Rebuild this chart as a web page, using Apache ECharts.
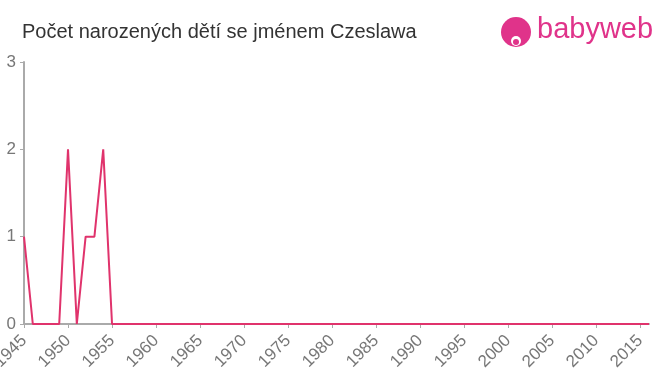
<!DOCTYPE html>
<html><head><meta charset="utf-8">
<script src="https://cdn.jsdelivr.net/npm/echarts@6/dist/echarts.min.js"></script>
<style>html,body{margin:0;padding:0;background:#fff}#c{width:660px;height:375px}</style>
</head><body><div id="c"></div>
<script>
const years = [];
for (let y = 1945; y <= 2016; y++) years.push(y);
const counts = [1,0,0,0,0,2,0,1,1,2,0,0,0,0,0,0,0,0,0,0,
  0,0,0,0,0,0,0,0,0,0,0,0,0,0,0,0,0,0,0,0,
  0,0,0,0,0,0,0,0,0,0,0,0,0,0,0,0,0,0,0,0,
  0,0,0,0,0,0,0,0,0,0,0,0];
const yTicks = [0,1,2,3];
const titleText = 'Počet narozených dětí se jménem Czeslawa';

const chart = echarts.init(document.getElementById('c'));
chart.setOption({
  animation: false,
  title: {text: titleText, left: 17, top: 17, textStyle: {fontFamily: 'Liberation Sans, Arial, sans-serif', fontSize: 20, fontWeight: 'normal', color: '#333'}},
  grid: {left: 24, right: 11, top: 62, bottom: 51, containLabel: false, outerBoundsMode: 'none'},
  xAxis: {type: 'value', min: 1945, max: 2016, interval: 5,
    axisLine: {lineStyle: {color: '#aaa', width: 2}},
    axisTick: {show: true, length: 4, lineStyle: {color: '#aaa'}},
    splitLine: {show: false},
    axisLabel: {rotate: 45, color: '#777', fontSize: 17, fontFamily: 'Liberation Sans, Arial, sans-serif', margin: 14,
      showMaxLabel: false, formatter: v => String(v)}},
  yAxis: {type: 'value', min: 0, max: 3, interval: 1,
    axisLine: {show: true, lineStyle: {color: '#aaa', width: 2}},
    axisTick: {show: true, length: 4, lineStyle: {color: '#aaa'}},
    splitLine: {show: false},
    axisLabel: {color: '#777', fontSize: 17, fontFamily: 'Liberation Sans, Arial, sans-serif', margin: 8,
      formatter: v => yTicks.includes(v) ? String(v) : ''}},
  series: [{type: 'line', data: years.map((y, i) => [y, counts[i]]), showSymbol: false,
    lineStyle: {color: '#e0336c', width: 2}, itemStyle: {color: '#e0336c'}}],
  graphic: [
    {type: 'circle', shape: {cx: 516, cy: 32, r: 15}, style: {fill: '#e0338a'}},
    {type: 'circle', shape: {cx: 516, cy: 41, r: 5}, style: {fill: '#fff'}},
    {type: 'circle', shape: {cx: 516, cy: 42, r: 3}, style: {fill: '#e0338a'}},
    {type: 'text', left: 537, top: 15, style: {text: 'babyweb', fill: '#e0338a', fontSize: 29, fontFamily: 'Liberation Sans, Arial, sans-serif'}}
  ]
});
</script></body></html>
